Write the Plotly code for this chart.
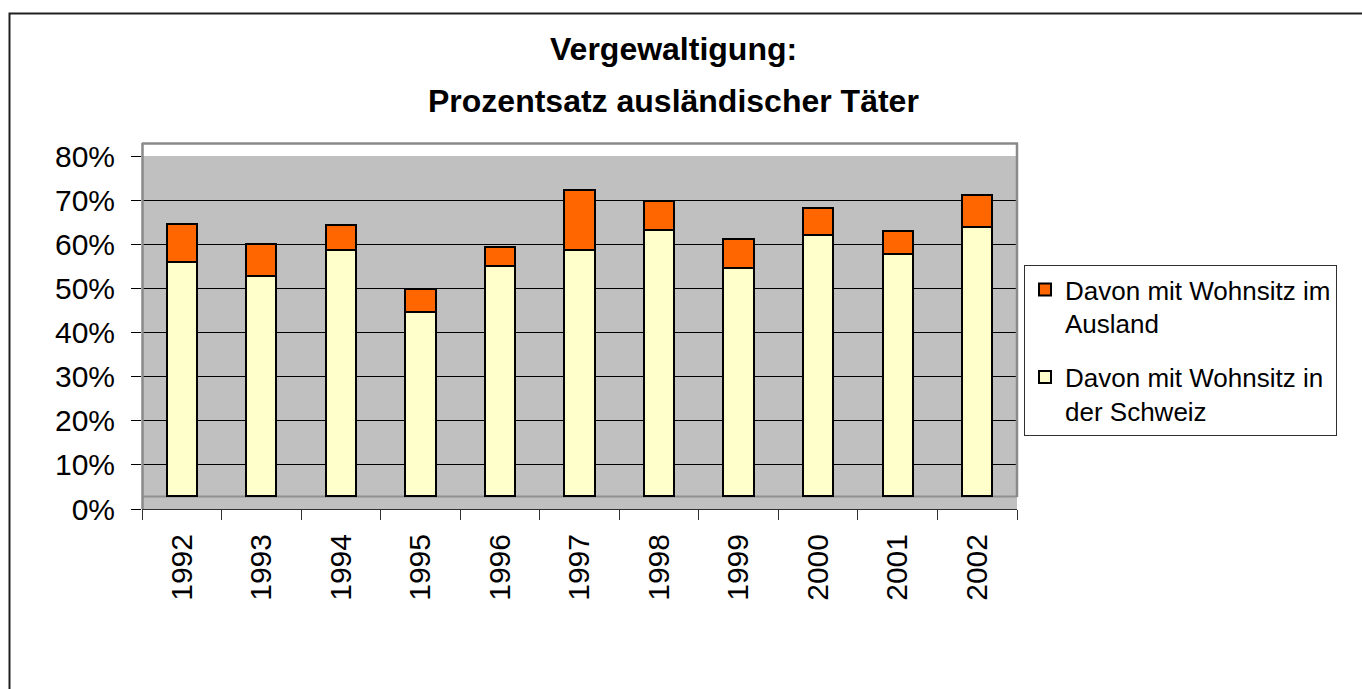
import plotly.graph_objects as go

# ---- data ----
years = ["1992", "1993", "1994", "1995", "1996", "1997", "1998", "1999", "2000", "2001", "2002"]
schweiz = [55.1, 51.8, 57.9, 43.2, 54.2, 57.9, 62.6, 53.6, 61.3, 56.9, 63.3]
ausland = [8.9, 7.4, 5.9, 5.4, 4.3, 14.1, 6.9, 6.9, 6.5, 5.5, 7.6]
y_ticks = [0, 10, 20, 30, 40, 50, 60, 70, 80]
y_tick_labels = ["0%", "10%", "20%", "30%", "40%", "50%", "60%", "70%", "80%"]

name_ausland = "Davon mit Wohnsitz im<br>Ausland"
name_schweiz = "Davon mit Wohnsitz in<br>der Schweiz"
title_line1 = "Vergewaltigung:"
title_line2 = "Prozentsatz ausländischer Täter"

# ---- layout geometry (pixels) ----
W, H = 1362, 689
L, R, T, B = 142, 1017, 156, 509
PW, PH = R - L, B - T


def px(x):
    return (x - L) / PW


def py(y):
    return (B - y) / PH


FONT = "Liberation Sans, Arial, sans-serif"

fig = go.Figure()
# empty helper trace so that the labelled value axis (y) gets drawn
fig.add_trace(go.Scatter(x=years[:1], y=[None], yaxis="y", mode="markers",
                         showlegend=False, hoverinfo="skip"))
fig.add_trace(go.Bar(
    x=years, y=schweiz, name=name_schweiz, yaxis="y2",
    legendgroup="schweiz", legendrank=2,
    marker=dict(color="#FFFFCC", line=dict(color="black", width=2)),
))
fig.add_trace(go.Bar(
    x=years, y=ausland, name=name_ausland, yaxis="y2",
    legendgroup="ausland", legendrank=1,
    marker=dict(color="#FF6600", line=dict(color="black", width=2)),
))

# the bars stand on the floor's back edge (13 px above the value axis zero)
floor_px = 13
r0 = -floor_px * 80 / (PH - floor_px)

shapes = [
    # outer chart border
    dict(type="rect", xref="paper", yref="paper", x0=px(9.5), x1=px(1420), y0=py(13.5), y1=py(740),
         line=dict(color="#202020", width=2), fillcolor="rgba(0,0,0,0)", layer="below"),
    # floor back edge
    dict(type="line", xref="paper", yref="paper", x0=px(L), x1=px(R), y0=py(496.5), y1=py(496.5),
         line=dict(color="#909090", width=2), layer="below"),
    # wall frame: top, left, right
    dict(type="line", xref="paper", yref="paper", x0=px(L), x1=px(R + 1), y0=py(143.5), y1=py(143.5),
         line=dict(color="#8A8A8A", width=2.5), layer="above"),
    dict(type="line", xref="paper", yref="paper", x0=px(142.5), x1=px(142.5), y0=py(143), y1=py(B),
         line=dict(color="#8A8A8A", width=2.5), layer="above"),
    dict(type="line", xref="paper", yref="paper", x0=px(R), x1=px(R), y0=py(143), y1=py(497),
         line=dict(color="#8A8A8A", width=2.5), layer="above"),
]

annotations = [
    dict(text="<b>" + title_line1 + "</b>", xref="paper", yref="paper", x=px(673), y=py(49),
         xanchor="center", yanchor="middle", showarrow=False, font=dict(family=FONT, size=32, color="black")),
    dict(text="<b>" + title_line2 + "</b>", xref="paper", yref="paper", x=px(673), y=py(101),
         xanchor="center", yanchor="middle", showarrow=False, font=dict(family=FONT, size=32, color="black")),
]

fig.update_layout(
    width=W, height=H,
    margin=dict(l=L, r=W - R, t=T, b=H - B, autoexpand=False),
    paper_bgcolor="white",
    plot_bgcolor="#C0C0C0",
    barmode="stack",
    bargap=0.62,
    font=dict(family=FONT, color="black"),
    shapes=shapes,
    annotations=annotations,
    legend=dict(
        x=px(1024), y=py(265), xanchor="left", yanchor="top",
        bordercolor="#303030", borderwidth=1, bgcolor="white",
        font=dict(family=FONT, size=26, color="black"),
        traceorder="grouped", valign="top", tracegroupgap=17,
    ),
    xaxis=dict(
        type="category", range=[-0.5, len(years) - 0.5], tickangle=-90, tickson="boundaries",
        ticks="outside", ticklen=10, tickcolor="#303030", tickwidth=1,
        showline=True, linecolor="#303030", linewidth=1,
        showgrid=False, tickfont=dict(family=FONT, size=30, color="black"),
        ticklabelstandoff=12,
    ),
    yaxis=dict(
        range=[0, 80], tickvals=y_ticks, ticktext=y_tick_labels,
        ticks="outside", ticklen=10, tickcolor="black", tickwidth=1,
        showgrid=True, gridcolor="black", gridwidth=1, zeroline=False,
        showline=False, tickfont=dict(family=FONT, size=30, color="black"),
        ticklabelstandoff=10,
    ),
    yaxis2=dict(
        overlaying="y", anchor="x", range=[r0, 80], visible=False,
        showgrid=False, zeroline=False,
    ),
)

fig.write_html("out.html", config={"displayModeBar": False},
               post_script="document.body.style.margin='0px';")
